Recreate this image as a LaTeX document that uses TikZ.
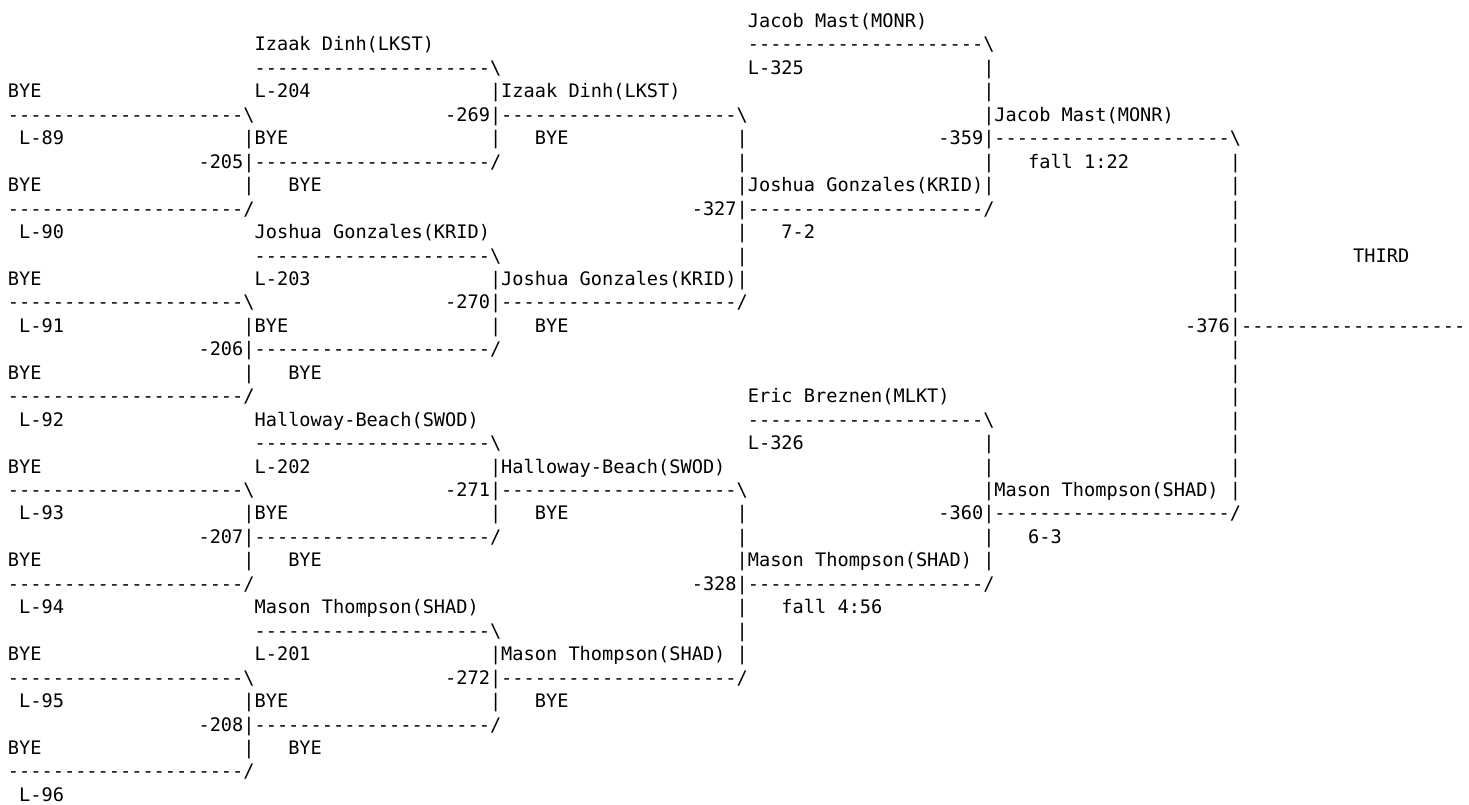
\documentclass[tikz,border=0pt]{standalone}
\usepackage{fontspec}
\setmonofont{DejaVu Sans Mono}
\newcommand\dsh{---------------------}
\newcommand\bsl{\textbackslash}
\newcommand\vb{\textbar}
\tikzset{txt/.style={anchor=base west,inner sep=0pt,outer sep=0pt,text=black,font=\ttfamily\fontsize{18.62}{22}\selectfont}}
\newcommand\cell[3]{\node[txt] (r#2c#1) at ({8+#1*11.21},{27.5+#2*23.45}) {#3};}
\begin{document}
\begin{tikzpicture}[x=1pt,y=-1pt]
\fill[white] (0,0) rectangle (1469,804);
\useasboundingbox (0,0) rectangle (1469,804);
\cell{66}{0}{Jacob Mast(MONR)}
\cell{22}{1}{Izaak Dinh(LKST)} \cell{66}{1}{\dsh\bsl}
\cell{22}{2}{\dsh\bsl} \cell{66}{2}{L-325} \cell{87}{2}{\vb}
\cell{0}{3}{BYE} \cell{22}{3}{L-204} \cell{43}{3}{\vb Izaak Dinh(LKST)} \cell{87}{3}{\vb}
\cell{0}{4}{\dsh\bsl} \cell{39}{4}{-269\vb\dsh\bsl} \cell{87}{4}{\vb Jacob Mast(MONR)}
\cell{1}{5}{L-89} \cell{21}{5}{\vb BYE} \cell{43}{5}{\vb\ \ \ BYE} \cell{65}{5}{\vb} \cell{83}{5}{-359\vb\dsh\bsl}
\cell{17}{6}{-205\vb\dsh/} \cell{65}{6}{\vb} \cell{87}{6}{\vb\ \ \ fall 1:22} \cell{109}{6}{\vb}
\cell{0}{7}{BYE} \cell{21}{7}{\vb\ \ \ BYE} \cell{65}{7}{\vb Joshua Gonzales(KRID)\vb} \cell{109}{7}{\vb}
\cell{0}{8}{\dsh/} \cell{61}{8}{-327\vb\dsh/} \cell{109}{8}{\vb}
\cell{1}{9}{L-90} \cell{22}{9}{Joshua Gonzales(KRID)} \cell{65}{9}{\vb\ \ \ 7-2} \cell{109}{9}{\vb}
\cell{22}{10}{\dsh\bsl} \cell{65}{10}{\vb} \cell{109}{10}{\vb} \cell{120}{10}{THIRD}
\cell{0}{11}{BYE} \cell{22}{11}{L-203} \cell{43}{11}{\vb Joshua Gonzales(KRID)\vb} \cell{109}{11}{\vb}
\cell{0}{12}{\dsh\bsl} \cell{39}{12}{-270\vb\dsh/} \cell{109}{12}{\vb}
\cell{1}{13}{L-91} \cell{21}{13}{\vb BYE} \cell{43}{13}{\vb\ \ \ BYE} \cell{105}{13}{-376\vb--------------------}
\cell{17}{14}{-206\vb\dsh/} \cell{109}{14}{\vb}
\cell{0}{15}{BYE} \cell{21}{15}{\vb\ \ \ BYE} \cell{109}{15}{\vb}
\cell{0}{16}{\dsh/} \cell{66}{16}{Eric Breznen(MLKT)} \cell{109}{16}{\vb}
\cell{1}{17}{L-92} \cell{22}{17}{Halloway-Beach(SWOD)} \cell{66}{17}{\dsh\bsl} \cell{109}{17}{\vb}
\cell{22}{18}{\dsh\bsl} \cell{66}{18}{L-326} \cell{87}{18}{\vb} \cell{109}{18}{\vb}
\cell{0}{19}{BYE} \cell{22}{19}{L-202} \cell{43}{19}{\vb Halloway-Beach(SWOD)} \cell{87}{19}{\vb} \cell{109}{19}{\vb}
\cell{0}{20}{\dsh\bsl} \cell{39}{20}{-271\vb\dsh\bsl} \cell{87}{20}{\vb Mason Thompson(SHAD) \vb}
\cell{1}{21}{L-93} \cell{21}{21}{\vb BYE} \cell{43}{21}{\vb\ \ \ BYE} \cell{65}{21}{\vb} \cell{83}{21}{-360\vb\dsh/}
\cell{17}{22}{-207\vb\dsh/} \cell{65}{22}{\vb} \cell{87}{22}{\vb\ \ \ 6-3}
\cell{0}{23}{BYE} \cell{21}{23}{\vb\ \ \ BYE} \cell{65}{23}{\vb Mason Thompson(SHAD) \vb}
\cell{0}{24}{\dsh/} \cell{61}{24}{-328\vb\dsh/}
\cell{1}{25}{L-94} \cell{22}{25}{Mason Thompson(SHAD)} \cell{65}{25}{\vb\ \ \ fall 4:56}
\cell{22}{26}{\dsh\bsl} \cell{65}{26}{\vb}
\cell{0}{27}{BYE} \cell{22}{27}{L-201} \cell{43}{27}{\vb Mason Thompson(SHAD) \vb}
\cell{0}{28}{\dsh\bsl} \cell{39}{28}{-272\vb\dsh/}
\cell{1}{29}{L-95} \cell{21}{29}{\vb BYE} \cell{43}{29}{\vb\ \ \ BYE}
\cell{17}{30}{-208\vb\dsh/}
\cell{0}{31}{BYE} \cell{21}{31}{\vb\ \ \ BYE}
\cell{0}{32}{\dsh/}
\cell{1}{33}{L-96}
\end{tikzpicture}
\end{document}
